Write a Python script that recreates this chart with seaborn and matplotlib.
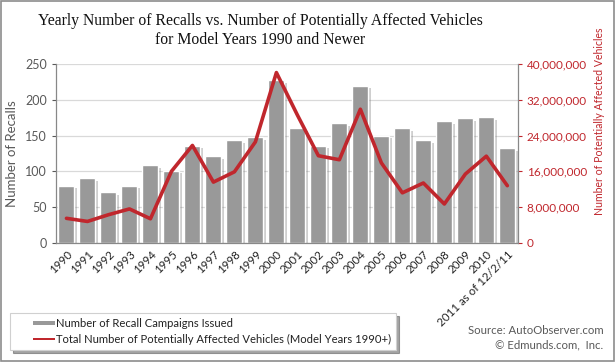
import pandas as pd
import matplotlib
matplotlib.use("Agg")
import matplotlib.pyplot as plt
import matplotlib.patheffects as pe
from matplotlib.patches import Rectangle
from matplotlib.legend_handler import HandlerPatch
from matplotlib.ticker import FuncFormatter, MultipleLocator
import seaborn as sns

years = ['1990', '1991', '1992', '1993', '1994', '1995', '1996', '1997', '1998', '1999', '2000',
         '2001', '2002', '2003', '2004', '2005', '2006', '2007', '2008', '2009', '2010',
         '2011 as of 12/2/11']
recalls = [80, 91, 71, 80, 109, 101, 136, 121, 144, 148, 228,
           160, 136, 167, 220, 150, 161, 144, 170, 175, 176, 133]
vehicles = [5.5e6, 4.8e6, 6.3e6, 7.6e6, 5.4e6, 16.0e6, 21.8e6, 13.6e6, 15.9e6, 22.6e6, 38.1e6,
            28.6e6, 19.5e6, 18.6e6, 29.9e6, 17.9e6, 11.2e6, 13.4e6, 8.7e6, 15.4e6, 19.4e6, 12.8e6]

df = pd.DataFrame({'Year': years, 'Recalls': recalls, 'Vehicles': vehicles})
df['pos'] = df.index

bar_color = '#999999'
red = '#c0272d'
grey_text = '#595959'

sns.set_style('white')
plt.rcParams['font.family'] = ['Lato', 'DejaVu Sans']

fig = plt.figure(figsize=(6.15, 3.62), dpi=100)
ax = fig.add_axes([0.091, 0.329, 0.751, 0.494])

sns.barplot(data=df, x='Year', y='Recalls', color=bar_color, saturation=1, width=0.76, ax=ax, zorder=2)
for p in ax.patches:
    p.set_path_effects([pe.SimplePatchShadow(offset=(2, -2), shadow_rgbFace='#777777', alpha=0.35), pe.Normal()])

ax.set_ylim(0, 250)
ax.yaxis.set_major_locator(MultipleLocator(50))
ax.grid(axis='y', color='#d9d9d9', linewidth=0.9, zorder=0)
ax.set_axisbelow(True)
ax.set_xlim(-0.5, len(years) - 0.5)
ax.set_xlabel('')
ax.set_ylabel('Number of Recalls', color=grey_text, fontsize=9.5, labelpad=5)
ax.tick_params(axis='y', colors=grey_text, labelsize=9, length=3, direction='out', left=True)
ax.set_xticks(df['pos'])
ax.set_xticklabels(years, rotation=45, ha='right', rotation_mode='anchor', fontsize=8.3, color='#222222')
ax.tick_params(axis='x', length=0, pad=4)
# tick marks at category boundaries
ax.set_xticks([i - 0.5 for i in range(len(years) + 1)], minor=True)
ax.tick_params(axis='x', which='minor', length=4, color='#888888', direction='out')
for s in ['top', 'right']:
    ax.spines[s].set_visible(False)
for s in ['left', 'bottom']:
    ax.spines[s].set_color('#888888')
    ax.spines[s].set_linewidth(0.9)

ax2 = ax.twinx()
sns.lineplot(data=df, x='pos', y='Vehicles', color=red, linewidth=2.6, ax=ax2, zorder=5)
ax2.set_ylim(0, 40e6)
ax2.yaxis.set_major_locator(MultipleLocator(8e6))
ax2.yaxis.set_major_formatter(FuncFormatter(lambda v, _: f'{int(v):,}'))
ax2.tick_params(axis='y', colors=red, labelsize=8.5, length=3, direction='out', right=True)
ax2.set_ylabel('Number of Potentially Affected Vehicles', color=red, fontsize=7.6)
ax2.yaxis.set_label_coords(1.165, 0.68)
ax2.set_xlabel('')
ax2.grid(False)
for s in ['top', 'left', 'bottom']:
    ax2.spines[s].set_visible(False)
ax2.spines['right'].set_color('#888888')
ax2.spines['right'].set_linewidth(0.9)
ax2.set_xlim(-0.5, len(years) - 0.5)

fig.text(0.423, 0.917, 'Yearly Number of Recalls vs. Number of Potentially Affected Vehicles\nfor Model Years 1990 and Newer',
         ha='center', va='center', fontsize=11.3, family='Liberation Serif', color='#111111', linespacing=1.25)


def bar_handle(legend, orig_handle, xdescent, ydescent, width, height, fontsize):
    w = width * 0.55
    return Rectangle((width - w - xdescent, height * 0.22 - ydescent), w, height * 0.55)


def line_handle(legend, orig_handle, xdescent, ydescent, width, height, fontsize):
    w = width * 0.55
    return Rectangle((width - w - xdescent, height * 0.38 - ydescent), w, height * 0.26)


h_bar = Rectangle((0, 0), 1, 1, facecolor=bar_color, edgecolor='none')
h_line = Rectangle((0, 0), 1, 1, facecolor=red, edgecolor='none')
leg = fig.legend([h_bar, h_line], ['Number of Recall Campaigns Issued',
                                   'Total Number of Potentially Affected Vehicles (Model Years 1990+)'],
                 handler_map={h_bar: HandlerPatch(patch_func=bar_handle),
                              h_line: HandlerPatch(patch_func=line_handle)},
                 loc='lower left', bbox_to_anchor=(0.016, 0.033), fontsize=8.1, frameon=True,
                 fancybox=False, shadow=True, edgecolor='#d0d0d0', handlelength=3.6, handletextpad=0.05,
                 borderpad=0.45, labelspacing=0.45, borderaxespad=0)
leg.get_frame().set_linewidth(0.8)
for t in leg.get_texts():
    t.set_color('#222222')

fig.text(0.981, 0.086, 'Source: AutoObserver.com', ha='right', va='center', fontsize=8.2, color=grey_text)
fig.text(0.981, 0.047, '\u00a9 Edmunds.com,  Inc.', ha='right', va='center', fontsize=8.2, color=grey_text)

fig.patches.append(Rectangle((0.001, 0.002), 0.997, 0.995, transform=fig.transFigure, fill=False,
                             edgecolor='#8c8c8c', linewidth=1.2, zorder=10))

fig.savefig('out.png', dpi=100)
